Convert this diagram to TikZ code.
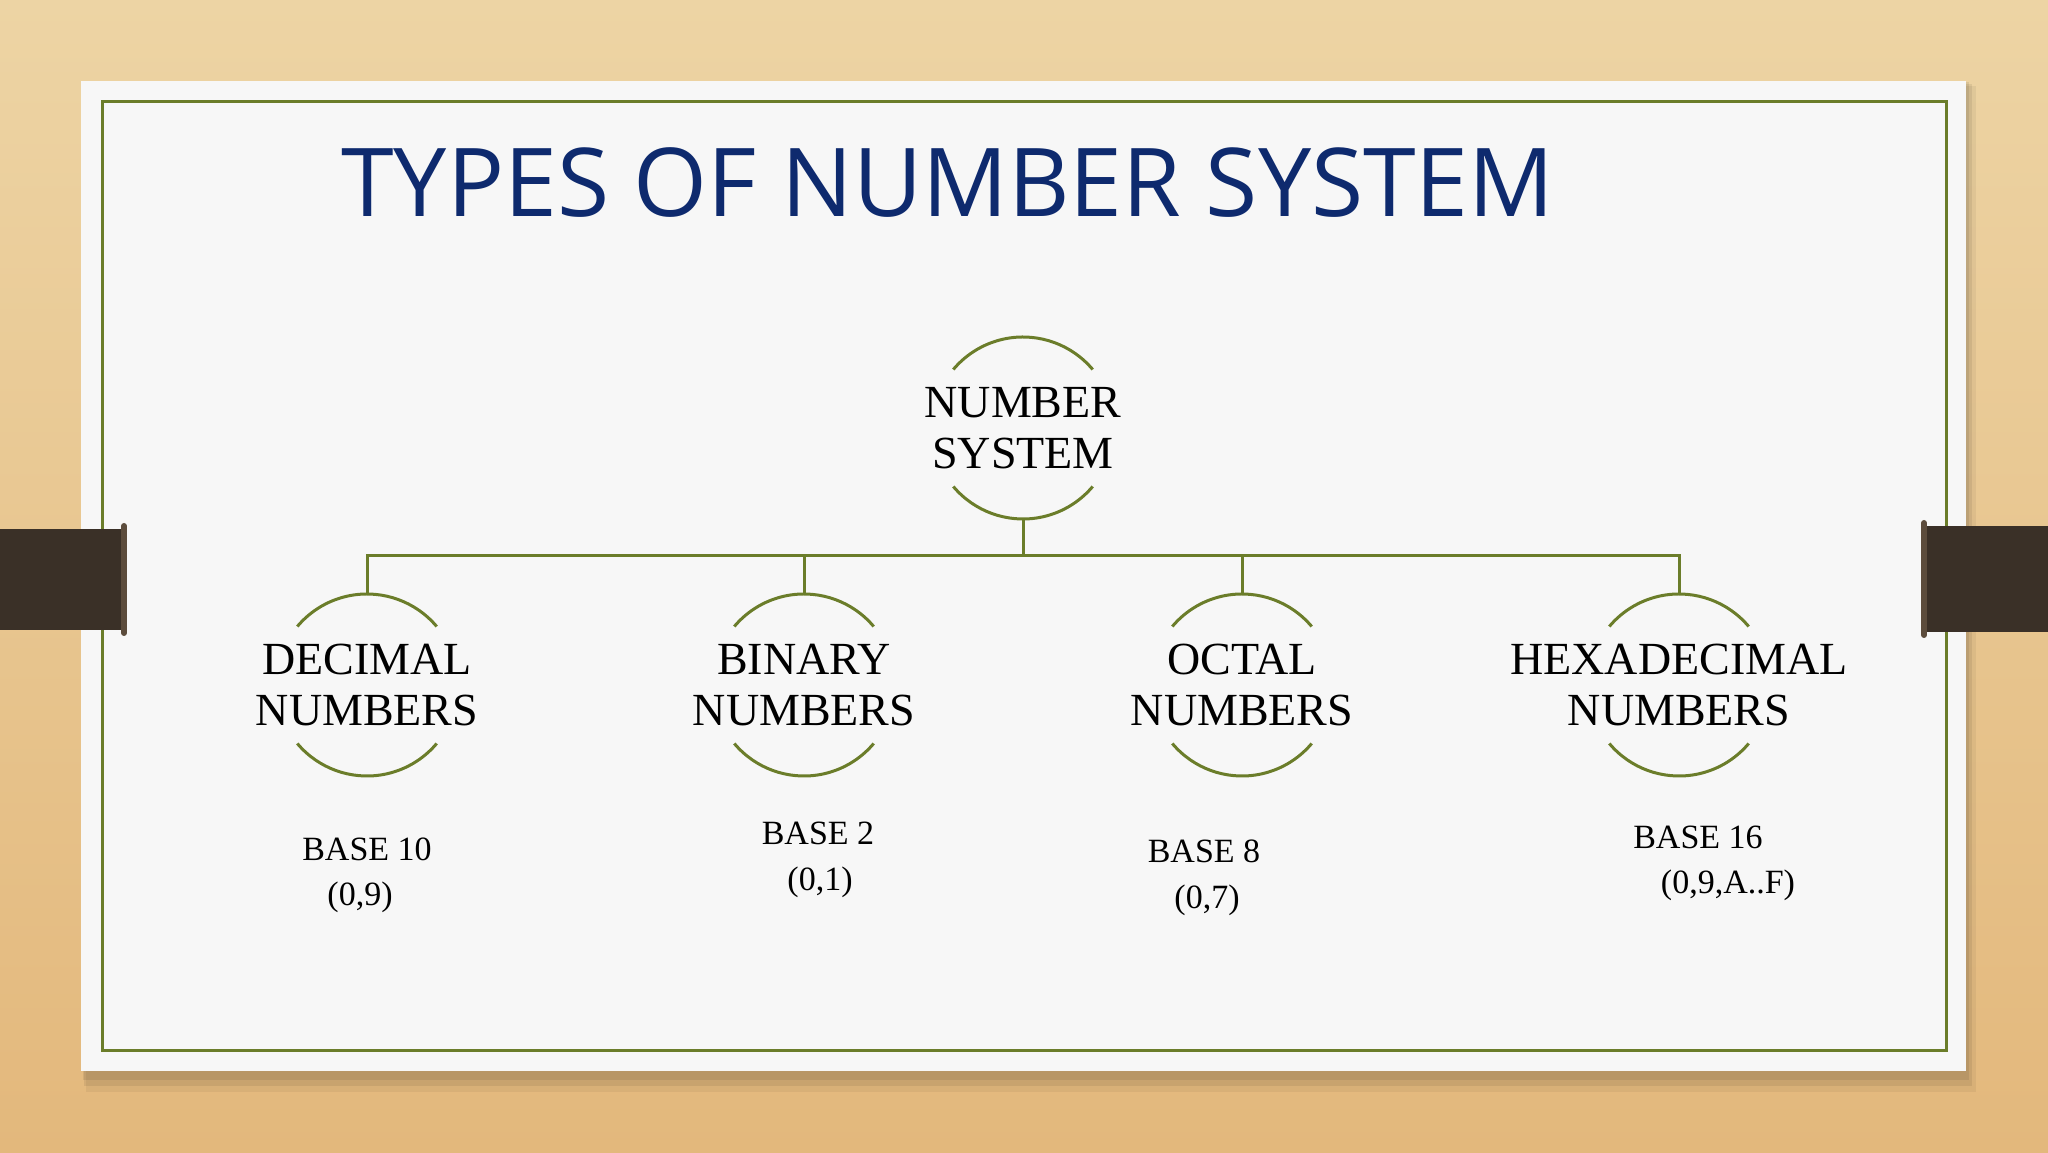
\documentclass[tikz,border=0pt]{standalone}
\usepackage{fontspec}
\setmainfont{Liberation Serif}
\newfontfamily\titlefont{Open Sans}
\definecolor{leafgreen}{HTML}{6B7D2A}
\definecolor{navy}{HTML}{0E2A6E}
\definecolor{paper}{HTML}{F7F7F7}
\definecolor{woodlight}{HTML}{EDD4A4}
\definecolor{wooddark}{HTML}{E3B87C}
\definecolor{clipbrown}{HTML}{3A3027}
\definecolor{cliprim}{HTML}{5C4C3C}
\tikzset{
  ring/.style={shape=circle,minimum size=182pt,inner sep=0pt,outer sep=0pt},
  arcline/.style={draw=leafgreen,line width=3pt},
  link/.style={draw=leafgreen,line width=3pt},
  topic/.style={align=center,inner sep=0pt,font=\fontsize{46}{51}\selectfont},
  baselabel/.style={inner sep=0pt,font=\fontsize{34}{48}\selectfont},
  clipbar/.style={fill=clipbrown},
}
\begin{document}
\begin{tikzpicture}[x=1pt,y=1pt]
        \useasboundingbox (0,0) rectangle (2048,1152);
        % wooden table and sheet
        \shade[top color=woodlight,bottom color=wooddark] (0,0) rectangle (2048,1152);
        \fill[black,opacity=0.05] (86,60) rectangle (1976,1066);
        \fill[black,opacity=0.07] (84,66) rectangle (1972,1068);
        \fill[black,opacity=0.08] (83,72) rectangle (1969,1070);
        \fill[paper] (81,81) rectangle (1966,1071);
        \draw[leafgreen,line width=3pt] (102,102) rectangle (1946,1050);
        \fill[clipbar] (0,522) rectangle (127,623);
        \draw[cliprim,line width=6pt,line cap=round] (124,519) -- (124,626);
        \fill[clipbar] (1921,520) rectangle (2048,626);
        \draw[cliprim,line width=6pt,line cap=round] (1924,517) -- (1924,629);
        % title
        \node[text=navy,font=\titlefont\fontsize{95}{105}\selectfont,inner sep=0pt](title)at(948, 969){TYPES OF NUMBER SYSTEM};
        % rings
        \node[ring](ns)at(1023, 724){};
        \node[ring](dec)at(367, 467){};
        \node[ring](bin)at(804, 467){};
        \node[ring](oct)at(1242, 467){};
        \node[ring](hex)at(1679, 467){};
        \node[topic](ns-text)at(ns){NUMBER\\SYSTEM};
        \node[topic](dec-text)at(dec){DECIMAL\\NUMBERS};
        \node[topic](bin-text)at(bin){BINARY\\NUMBERS};
        \node[topic](oct-text)at(oct){OCTAL\\NUMBERS};
        \node[topic](hex-text)at(hex){HEXADECIMAL\\NUMBERS};
        \foreach \n in {ns,dec,bin,oct,hex}{
            \draw[arcline] (\n.40) arc[start angle=40,end angle=140,radius=91pt];
            \draw[arcline] (\n.220) arc[start angle=220,end angle=320,radius=91pt];
        }
        % connectors
        \coordinate (bar) at (0, 596);
        \foreach \n in {dec,bin,oct,hex}
            \draw[link] (ns.south) -- (ns.south |- bar) -| (\n.north);
        % bases
        \node[baselabel](dec-base)at(367, 303){BASE 10};
        \node[baselabel](dec-range)at(360, 255){(0,9)};
        \node[baselabel](bin-base)at(818, 319){BASE 2};
        \node[baselabel](bin-range)at(820, 270){(0,1)};
        \node[baselabel](oct-base)at(1204, 301){BASE 8};
        \node[baselabel](oct-range)at(1207, 252){(0,7)};
        \node[baselabel](hex-base)at(1698, 315){BASE 16};
        \node[baselabel](hex-range)at(1728, 267){(0,9,A..F)};
    \end{tikzpicture}
\end{document}
